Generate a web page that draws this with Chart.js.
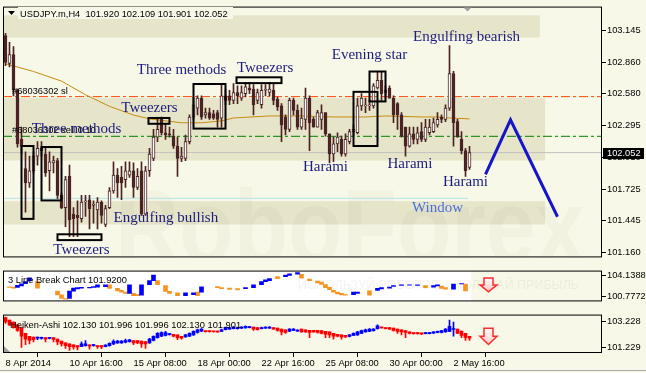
<!DOCTYPE html>
<html>
<head>
<meta charset="utf-8">
<script src="https://cdn.jsdelivr.net/npm/chart.js@4.4.1/dist/chart.umd.min.js"></script>
<style>
  html, body { margin: 0; padding: 0; background: #f8f8e8; }
  #wrap { position: relative; width: 646px; height: 373px; overflow: hidden; }
  #wrap canvas { position: absolute; left: 0; }
  #edge { position: absolute; left: 0; top: 370px; width: 646px; height: 1px; background: #a8a8a8; }
</style>
</head>
<body>
<div id="wrap">
  <canvas id="mainPane" width="646" height="264" style="top:0px"></canvas>
  <canvas id="breakPane" width="646" height="44" style="top:264px"></canvas>
  <canvas id="haPane" width="646" height="65" style="top:308px"></canvas>
  <div id="edge"></div>
</div>
<script>
// USDJPY.m H4 candles, 8 Apr - 2 May 2014
const candleOpen = [
  103.10, 102.85, 102.93, 102.61, 102.17, 101.91, 101.78, 101.89, 102.02, 102.09,
  102.04, 101.89, 101.96, 101.98, 101.67, 101.56, 101.84, 101.50, 101.49, 101.46,
  101.61, 101.63, 101.58, 101.54, 101.61, 101.41, 101.56, 101.71, 101.85, 101.83,
  101.81, 101.85, 101.89, 101.74, 101.89, 101.50, 101.89, 102.00, 102.19, 102.35,
  102.23, 102.22, 102.20, 102.11, 102.00, 102.00, 102.15, 102.37, 102.45, 102.54,
  102.39, 102.41, 102.40, 102.41, 102.36, 102.56, 102.56, 102.52, 102.59, 102.54,
  102.58, 102.63, 102.62, 102.52, 102.48, 102.61, 102.59, 102.61, 102.53, 102.47,
  102.37, 102.26, 102.52, 102.43, 102.28, 102.35, 102.54, 102.35, 102.28, 102.35,
  102.41, 102.22, 102.04, 102.13, 102.17, 102.04, 102.15, 102.24, 102.23, 102.47,
  102.47, 102.47, 102.47, 102.63, 102.70, 102.59, 102.63, 102.54, 102.49, 102.39,
  102.28, 102.11, 102.22, 102.17, 102.24, 102.17, 102.23, 102.24, 102.30, 102.37,
  102.35, 102.45, 102.76, 102.33, 102.17, 102.07, 101.920
];
const candleHigh = [
  103.12, 103.04, 103.00, 102.62, 102.28, 102.06, 102.02, 102.06, 102.15, 102.15,
  102.09, 102.06, 102.02, 102.00, 101.69, 101.84, 101.94, 101.56, 101.62, 101.67,
  101.67, 101.67, 101.62, 101.65, 101.62, 101.58, 101.74, 101.97, 101.91, 101.93,
  101.97, 101.97, 101.96, 101.91, 101.97, 101.93, 102.09, 102.26, 102.35, 102.37,
  102.31, 102.28, 102.26, 102.19, 102.10, 102.21, 102.39, 102.55, 102.56, 102.56,
  102.45, 102.45, 102.43, 102.43, 102.67, 102.62, 102.61, 102.67, 102.65, 102.65,
  102.68, 102.68, 102.66, 102.62, 102.66, 102.66, 102.68, 102.67, 102.55, 102.49,
  102.39, 102.54, 102.54, 102.48, 102.45, 102.63, 102.56, 102.37, 102.43, 102.48,
  102.41, 102.22, 102.19, 102.23, 102.20, 102.22, 102.26, 102.30, 102.54, 102.58,
  102.54, 102.52, 102.67, 102.78, 102.78, 102.65, 102.65, 102.56, 102.50, 102.41,
  102.28, 102.28, 102.28, 102.28, 102.32, 102.35, 102.35, 102.36, 102.41, 102.39,
  102.48, 103.01, 102.78, 102.35, 102.24, 102.09, 102.109
];
const candleLow = [
  102.83, 102.82, 102.56, 102.10, 102.04, 101.52, 101.74, 101.87, 101.94, 102.02,
  101.84, 101.71, 101.87, 101.64, 101.55, 101.39, 101.30, 101.30, 101.30, 101.43,
  101.48, 101.37, 101.42, 101.37, 101.42, 101.39, 101.55, 101.69, 101.65, 101.63,
  101.74, 101.83, 101.65, 101.72, 101.49, 101.49, 101.84, 101.98, 102.15, 102.21,
  102.17, 102.19, 102.09, 101.84, 101.97, 101.98, 102.13, 102.35, 102.39, 102.35,
  102.36, 102.35, 102.35, 102.28, 102.28, 102.48, 102.48, 102.49, 102.49, 102.52,
  102.55, 102.58, 102.39, 102.49, 102.45, 102.56, 102.56, 102.48, 102.43, 102.15,
  102.21, 102.24, 102.39, 102.26, 102.26, 102.26, 102.07, 102.28, 102.28, 102.26,
  102.20, 101.96, 101.97, 102.06, 102.02, 102.02, 102.13, 102.20, 102.22, 102.43,
  102.41, 102.43, 102.45, 102.62, 102.52, 102.54, 102.54, 102.32, 102.26, 102.19,
  102.02, 102.10, 102.13, 102.13, 102.15, 102.15, 102.21, 102.23, 102.28, 102.32,
  102.33, 102.43, 102.11, 102.19, 102.04, 101.84, 101.901
];
const candleClose = [
  102.86, 102.93, 102.61, 102.13, 102.11, 101.78, 101.89, 102.02, 102.09, 102.07,
  101.87, 101.97, 101.98, 101.67, 101.56, 101.81, 101.45, 101.46, 101.47, 101.61,
  101.62, 101.55, 101.59, 101.61, 101.49, 101.55, 101.71, 101.85, 101.78, 101.78,
  101.89, 101.89, 101.74, 101.84, 101.50, 101.89, 102.04, 102.19, 102.26, 102.23,
  102.21, 102.21, 102.11, 102.00, 102.02, 102.15, 102.37, 102.48, 102.54, 102.37,
  102.41, 102.36, 102.36, 102.35, 102.56, 102.52, 102.52, 102.59, 102.56, 102.59,
  102.64, 102.61, 102.48, 102.59, 102.61, 102.61, 102.62, 102.52, 102.46, 102.30,
  102.26, 102.52, 102.43, 102.28, 102.36, 102.54, 102.32, 102.28, 102.41, 102.41,
  102.22, 102.04, 102.13, 102.19, 102.04, 102.17, 102.24, 102.26, 102.47, 102.54,
  102.48, 102.48, 102.65, 102.70, 102.58, 102.61, 102.54, 102.39, 102.39, 102.20,
  102.11, 102.22, 102.17, 102.23, 102.17, 102.28, 102.28, 102.32, 102.35, 102.35,
  102.45, 102.76, 102.32, 102.19, 102.07, 101.89, 102.052
];

// moving average, sampled at bar positions
const maBars = [0, 7, 14, 20, 26, 32, 36, 44, 49, 54, 57, 66, 74, 82, 90, 95, 104, 108, 111, 116];
const maValues = [102.848, 102.778, 102.692, 102.570, 102.466, 102.388, 102.354, 102.319, 102.319, 102.336,
  102.362, 102.380, 102.380, 102.371, 102.371, 102.380, 102.371, 102.371, 102.362, 102.354];

// forecast zigzag
const forecastBars = [120, 126.25, 138];
const forecastValues = [101.858, 102.345, 101.478];

// horizontal levels
const slLevel = 102.553;
const openLevel = 102.198;
const windowLevel = 101.643;
const windowLevelEnd = 115.6;

// 3 Line Break blocks: [bar, low, high]
const lbBlue = [
  [3, 102.22, 102.58], [4, 102.46, 102.82], [5, 102.82, 103.18], [6, 103.30, 103.78],
  [16, 100.42, 101.62], [17, 101.62, 102.10], [18, 101.98, 102.22], [19, 102.10, 102.26],
  [21, 102.14, 102.26], [22, 102.22, 102.38], [23, 102.26, 102.66], [25, 102.34, 102.66],
  [31, 101.26, 102.66], [34, 100.94, 102.66], [36, 102.66, 103.33], [37, 103.33, 104.26],
  [45, 100.86, 101.34], [47, 101.06, 101.34], [49, 101.46, 102.34], [60, 102.02, 102.22],
  [62, 102.18, 102.66], [64, 102.66, 103.18], [65, 103.18, 103.46], [66, 103.34, 103.66],
  [70, 103.98, 104.26], [71, 104.18, 104.46], [73, 104.38, 104.66], [87, 101.06, 101.46],
  [88, 101.26, 101.46], [93, 101.74, 102.06], [94, 101.98, 102.18], [96, 102.10, 102.30],
  [97, 102.38, 102.54], [99, 102.54, 102.66], [101, 102.58, 102.66], [103, 102.54, 102.66],
  [107, 102.26, 102.54], [108, 102.46, 102.66], [112, 101.94, 102.78], [114, 102.78, 102.86]
];
const lbOrange = [
  [1, 102.22, 102.34], [2, 102.10, 102.30], [8, 102.10, 103.18], [13, 101.02, 101.62],
  [14, 100.42, 101.02], [15, 100.30, 100.42], [26, 102.06, 102.66], [28, 101.66, 102.06],
  [29, 101.46, 101.74], [30, 101.26, 101.46], [32, 100.86, 101.26], [33, 100.86, 101.06],
  [38, 102.66, 103.33], [40, 101.58, 102.54], [41, 101.26, 101.58], [43, 100.86, 101.34],
  [48, 100.86, 101.46], [53, 102.18, 102.38], [54, 102.02, 102.22], [56, 101.90, 102.10],
  [58, 101.82, 102.02], [68, 103.66, 103.98], [74, 103.74, 104.38], [76, 103.34, 103.58],
  [78, 102.98, 103.26], [79, 102.70, 103.10], [80, 102.20, 102.70], [81, 101.86, 102.26],
  [82, 101.46, 101.74], [83, 101.18, 101.46], [84, 101.02, 101.26], [85, 100.94, 101.06],
  [91, 100.94, 101.66], [105, 102.18, 102.54], [109, 102.06, 102.46], [110, 101.94, 102.18],
  [115, 101.66, 102.78]
];

// Heiken-Ashi
const haOpen = [
  103.52, 103.34, 103.18, 102.96, 102.74, 102.30, 102.07, 102.01, 101.92, 101.90,
  101.96, 101.90, 101.96, 101.85, 101.70, 101.56, 101.47, 101.41, 101.34, 101.25,
  101.34, 101.41, 101.34, 101.34, 101.34, 101.25, 101.34, 101.47, 101.56, 101.56,
  101.61, 101.65, 101.74, 101.74, 101.70, 101.65, 101.56, 101.74, 101.96, 102.07,
  102.14, 102.20, 102.23, 102.18, 102.07, 102.01, 102.07, 102.18, 102.36, 102.47,
  102.47, 102.47, 102.46, 102.45, 102.45, 102.58, 102.63, 102.67, 102.67, 102.70,
  102.72, 102.74, 102.78, 102.74, 102.67, 102.70, 102.70, 102.74, 102.70, 102.63,
  102.58, 102.47, 102.52, 102.47, 102.63, 102.58, 102.54, 102.54, 102.54, 102.52,
  102.45, 102.41, 102.30, 102.23, 102.18, 102.14, 102.05, 102.14, 102.18, 102.30,
  102.41, 102.45, 102.50, 102.67, 102.76, 102.74, 102.74, 102.70, 102.63, 102.58,
  102.52, 102.41, 102.36, 102.36, 102.32, 102.27, 102.27, 102.32, 102.36, 102.36,
  102.41, 102.45, 102.60, 102.63, 102.47, 102.30, 102.07
];
const haClose = [
  103.18, 102.96, 102.74, 102.52, 102.07, 101.85, 101.74, 101.80, 101.96, 101.96,
  101.85, 101.96, 101.83, 101.63, 101.47, 101.34, 101.25, 101.23, 101.21, 101.47,
  101.47, 101.30, 101.38, 101.25, 101.23, 101.38, 101.52, 101.67, 101.70, 101.70,
  101.74, 101.79, 101.56, 101.56, 101.47, 101.47, 101.85, 102.07, 102.30, 102.36,
  102.36, 102.25, 102.07, 101.96, 101.92, 102.18, 102.30, 102.45, 102.58, 102.63,
  102.43, 102.43, 102.42, 102.41, 102.58, 102.74, 102.74, 102.78, 102.74, 102.78,
  102.85, 102.81, 102.63, 102.58, 102.74, 102.78, 102.78, 102.63, 102.52, 102.41,
  102.36, 102.63, 102.63, 102.56, 102.41, 102.41, 102.36, 102.41, 102.36, 102.30,
  102.23, 102.18, 102.07, 102.07, 102.01, 102.01, 102.18, 102.30, 102.41, 102.52,
  102.58, 102.63, 102.63, 102.89, 102.72, 102.67, 102.63, 102.52, 102.45, 102.41,
  102.36, 102.30, 102.27, 102.27, 102.25, 102.36, 102.36, 102.41, 102.45, 102.52,
  102.63, 102.85, 102.62, 102.30, 102.14, 101.96, 101.92
];
const haHigh = [
  103.56, 103.34, 103.18, 102.96, 102.74, 102.30, 102.07, 102.01, 102.01, 102.00,
  101.96, 101.98, 101.96, 101.85, 101.70, 101.56, 101.47, 101.41, 101.34, 101.63,
  101.74, 101.41, 101.45, 101.34, 101.34, 101.42, 101.56, 101.80, 101.76, 101.74,
  101.85, 101.83, 101.74, 101.74, 101.70, 101.65, 101.90, 102.10, 102.36, 102.41,
  102.45, 102.30, 102.23, 102.18, 102.07, 102.23, 102.34, 102.50, 102.63, 102.67,
  102.47, 102.47, 102.46, 102.45, 102.63, 102.78, 102.76, 102.82, 102.78, 102.82,
  102.88, 102.85, 102.78, 102.74, 102.78, 102.80, 102.82, 102.74, 102.70, 102.63,
  102.58, 102.67, 102.67, 102.60, 102.63, 102.58, 102.54, 102.54, 102.54, 102.52,
  102.45, 102.41, 102.30, 102.23, 102.18, 102.14, 102.20, 102.34, 102.45, 102.56,
  102.63, 102.67, 102.67, 102.96, 102.76, 102.74, 102.74, 102.70, 102.63, 102.58,
  102.52, 102.41, 102.36, 102.36, 102.32, 102.38, 102.38, 102.43, 102.47, 102.54,
  102.67, 103.34, 103.18, 102.63, 102.47, 102.30, 102.07
];
const haLow = [
  103.07, 102.89, 102.70, 102.45, 101.19, 101.41, 101.47, 101.63, 101.81, 101.85,
  101.63, 101.87, 101.63, 101.41, 101.30, 101.12, 100.96, 101.07, 101.01, 101.25,
  101.30, 101.07, 101.30, 101.12, 101.10, 101.23, 101.30, 101.41, 101.52, 101.52,
  101.56, 101.61, 101.41, 101.50, 101.19, 101.12, 101.52, 101.70, 101.92, 102.03,
  102.10, 102.15, 102.01, 101.80, 101.85, 101.98, 102.03, 102.14, 102.32, 102.43,
  102.38, 102.38, 102.38, 102.36, 102.43, 102.56, 102.61, 102.65, 102.63, 102.67,
  102.70, 102.72, 102.52, 102.54, 102.65, 102.68, 102.68, 102.61, 102.47, 102.18,
  102.30, 102.43, 102.50, 102.45, 102.38, 102.36, 101.96, 102.36, 102.32, 102.25,
  101.96, 101.96, 101.85, 102.01, 101.85, 101.96, 102.01, 102.12, 102.14, 102.27,
  102.38, 102.43, 102.47, 102.63, 102.70, 102.65, 102.61, 102.47, 102.30, 102.18,
  101.96, 102.25, 102.23, 102.23, 102.20, 102.25, 102.25, 102.30, 102.34, 102.34,
  102.38, 102.43, 102.07, 102.27, 101.96, 101.74, 101.74
];

// axes
const priceTicks = [103.145, 102.860, 102.580, 102.295, 102.010, 101.725, 101.445, 101.160];
const lbTicks = [104.1388, 100.7772];
const haTicks = [103.228, 101.229];
const timeTickBars = [0, 16, 32, 48, 64, 80, 96, 112];
const timeTickLabels = ['8 Apr 2014', '10 Apr 16:00', '15 Apr 08:00', '18 Apr 00:00',
  '22 Apr 16:00', '25 Apr 08:00', '30 Apr 00:00', '2 May 16:00'];

// chart objects drawn on the price pane
const zones = [
  {to: 133.6, high: 103.281, low: 103.082},
  {to: 134.9, high: 102.540, low: 101.981},
  {to: 134.9, high: 101.617, low: 101.409}
];
const patternBoxes = [
  {from: 4, to: 7, high: 102.111, low: 101.459},
  {from: 9, to: 14, high: 102.102, low: 101.624},
  {from: 13, to: 24, high: 101.321, low: 101.269},
  {from: 35.75, to: 41, high: 102.362, low: 102.310},
  {from: 47, to: 55, high: 102.666, low: 102.267},
  {from: 57.75, to: 69, high: 102.726, low: 102.674},
  {from: 87, to: 93, high: 102.596, low: 102.111},
  {from: 91, to: 95, high: 102.778, low: 102.510}
];
const patternLabels = [
  {text: 'Three methods', bar: 44, price: 102.752},
  {text: 'Tweezers', bar: 36, price: 102.414},
  {text: 'Three methods', bar: 17.75, price: 102.232},
  {text: 'Tweezers', bar: 64.9, price: 102.770},
  {text: 'Evening star', bar: 91, price: 102.891},
  {text: 'Engulfing bearish', bar: 115.25, price: 103.047},
  {text: 'Harami', bar: 80, price: 101.886},
  {text: 'Harami', bar: 101.1, price: 101.912},
  {text: 'Harami', bar: 115, price: 101.755},
  {text: 'Engulfing bullish', bar: 40.1, price: 101.435},
  {text: 'Tweezers', bar: 19, price: 101.149}
];
const windowLabel = {text: 'Window', bar: 108, price: 101.521};

// Layout
const X_MIN = -0.625;
const X_MAX = 149.125;
const PANE_BG = '#f8f8e8';
const ZONE_BG = '#e7e5c9';
const CANDLE_DARK = '#4b2323';
const UI_FAMILY = '"Liberation Sans", Arial, sans-serif';
const UI_FONT = {family: UI_FAMILY, size: 9.3};
const LABEL_FONT = '15px "Liberation Serif", "Times New Roman", serif';

const lastBar = candleClose.length - 1;
const bars = candleClose.map((_, i) => i);

const rightAxis = (min, max, ticks, digits) => ({
  position: 'right', min: min, max: max, beginAtZero: false, offset: false,
  afterFit: (s) => { s.width = 44; },
  afterBuildTicks: (s) => { s.ticks = ticks.map(v => ({value: v})); },
  grid: {drawOnChartArea: false, drawTicks: true, tickLength: 4, color: '#000'},
  border: {display: false},
  ticks: {autoSkip: false, padding: 1, color: '#000', font: UI_FONT, callback: (v) => v.toFixed(digits)}
});

const hiddenX = {type: 'linear', display: false, min: X_MIN, max: X_MAX, offset: false};

const baseOptions = {
  responsive: false, animation: false, devicePixelRatio: 1,
  plugins: {legend: {display: false}, tooltip: {enabled: false}}
};

const drawPaneBorder = (ctx, a) => {
  ctx.save();
  ctx.strokeStyle = '#000';
  ctx.lineWidth = 1;
  ctx.strokeRect(a.left + 0.5, a.top + 0.5, a.width - 1, a.height - 1);
  ctx.restore();
};

const drawDownArrow = (ctx, cx, top, bottom) => {
  const mid = top + (bottom - top) * 0.5;
  ctx.save();
  ctx.beginPath();
  ctx.moveTo(cx - 4.5, top);
  ctx.lineTo(cx + 4.5, top);
  ctx.lineTo(cx + 4.5, mid);
  ctx.lineTo(cx + 8.5, mid);
  ctx.lineTo(cx, bottom);
  ctx.lineTo(cx - 8.5, mid);
  ctx.lineTo(cx - 4.5, mid);
  ctx.closePath();
  let g = ctx.createLinearGradient(0, top, 0, bottom);
  g.addColorStop(0, '#ffffff');
  g.addColorStop(1, '#ffc8c8');
  ctx.fillStyle = g;
  ctx.fill();
  ctx.strokeStyle = '#ff2b2b';
  ctx.lineWidth = 1.5;
  ctx.stroke();
  ctx.restore();
};

// price pane extras
const mainDecor = {
  id: 'mainDecor',
  beforeDraw(chart) {
    const {ctx, chartArea: a, scales: {x, y}} = chart;
    ctx.save();
    ctx.fillStyle = PANE_BG;
    ctx.fillRect(a.left, a.top, a.width, a.height);
    ctx.fillStyle = ZONE_BG;
    zones.forEach(z => {
      let top = y.getPixelForValue(z.high);
      let bottom = y.getPixelForValue(z.low);
      ctx.fillRect(a.left, top, x.getPixelForValue(z.to) - a.left, bottom - top);
    });

    // watermark
    ctx.beginPath();
    ctx.rect(a.left, a.top, a.width, a.height);
    ctx.clip();
    ctx.font = 'bold 104px ' + UI_FAMILY;
    ctx.fillStyle = 'rgba(90, 90, 60, 0.035)';
    let w = ctx.measureText('RoboForex').width;
    ctx.translate(115, 262);
    ctx.scale(470 / w, 1);
    ctx.fillText('RoboForex', 0, 0);
    ctx.restore();
  },
  afterDatasetsDraw(chart) {
    const {ctx, chartArea: a, scales: {x, y}} = chart;
    ctx.save();

    // order labels
    ctx.font = '9.3px ' + UI_FAMILY;
    ctx.fillStyle = '#000';
    ctx.textAlign = 'left';
    ctx.fillText('#68036302 sl', 12, y.getPixelForValue(slLevel) - 3);
    ctx.fillText('#68036302 sell 0.10', 12, y.getPixelForValue(openLevel) - 3);

    ctx.strokeStyle = '#000';
    ctx.lineWidth = 2;
    patternBoxes.forEach(b => {
      let x0 = x.getPixelForValue(b.from), x1 = x.getPixelForValue(b.to);
      let y0 = y.getPixelForValue(b.high), y1 = y.getPixelForValue(b.low);
      ctx.strokeRect(x0, y0, x1 - x0, y1 - y0);
    });

    ctx.font = LABEL_FONT;
    ctx.textAlign = 'center';
    ctx.textBaseline = 'alphabetic';
    ctx.fillStyle = '#1c1c7e';
    patternLabels.forEach(l => {
      ctx.fillText(l.text, x.getPixelForValue(l.bar), y.getPixelForValue(l.price));
    });
    ctx.fillStyle = '#4a6fdc';
    ctx.fillText(windowLabel.text, x.getPixelForValue(windowLabel.bar), y.getPixelForValue(windowLabel.price));
    ctx.restore();
  },
  afterDraw(chart) {
    const {ctx, chartArea: a, scales: {x, y}} = chart;
    drawPaneBorder(ctx, a);
    ctx.save();

    // title
    ctx.fillStyle = PANE_BG;
    ctx.fillRect(18, 7, 215, 12);
    ctx.fillStyle = '#000';
    ctx.beginPath();
    ctx.moveTo(8, 11);
    ctx.lineTo(15, 11);
    ctx.lineTo(11.5, 15);
    ctx.closePath();
    ctx.fill();
    ctx.font = '9.3px ' + UI_FAMILY;
    ctx.textAlign = 'left';
    let ohlc = [candleOpen, candleHigh, candleLow, candleClose].map(s => s[lastBar].toFixed(3)).join(' ');
    ctx.fillText('USDJPY.m,H4  ' + ohlc, 20, 17);

    // chart shift marker
    let sx = x.getPixelForValue(lastBar - 0.5);
    ctx.fillStyle = '#a0a0a0';
    ctx.beginPath();
    ctx.moveTo(sx - 4, a.top + 1);
    ctx.lineTo(sx + 4, a.top + 1);
    ctx.lineTo(sx, a.top + 5);
    ctx.closePath();
    ctx.fill();

    // current price tag
    let py = Math.round(y.getPixelForValue(candleClose[lastBar]));
    ctx.fillStyle = '#000';
    ctx.fillRect(a.right + 1, py - 5, 41, 11);
    ctx.fillStyle = '#fff';
    ctx.textBaseline = 'middle';
    ctx.fillText(candleClose[lastBar].toFixed(3), a.right + 5, py + 0.5);
    ctx.restore();
  }
};

const levelLine = (value, color, dash, from, to) => ({
  type: 'line',
  data: [{x: from, y: value}, {x: to, y: value}],
  borderColor: color, borderWidth: 1, borderDash: dash,
  pointRadius: 0, order: 5
});

new Chart(document.getElementById('mainPane'), {
  type: 'bar',
  data: {
    datasets: [
      {
        type: 'line',
        data: forecastBars.map((b, i) => ({x: b, y: forecastValues[i]})),
        borderColor: '#1616c8', borderWidth: 3, pointRadius: 0, order: 0
      },
      {
        data: bars.map(i => ({x: i, y: [candleOpen[i], candleClose[i]]})),
        backgroundColor: (c) => candleClose[c.dataIndex] >= candleOpen[c.dataIndex] ? '#ffffff' : CANDLE_DARK,
        borderColor: CANDLE_DARK, borderWidth: 1, borderSkipped: false,
        barThickness: 3, minBarLength: 1, grouped: false, order: 1
      },
      {
        data: bars.map(i => ({x: i, y: [candleLow[i], candleHigh[i]]})),
        backgroundColor: CANDLE_DARK, barThickness: 1, grouped: false, order: 2
      },
      {
        type: 'line',
        data: maBars.map((b, i) => ({x: b, y: maValues[i]})),
        borderColor: '#c68c0e', borderWidth: 1, pointRadius: 0, order: 3
      },
      levelLine(slLevel, '#ff4500', [9, 3, 3, 3], X_MIN, X_MAX),
      levelLine(openLevel, '#008000', [9, 3, 3, 3], X_MIN, X_MAX),
      levelLine(candleClose[lastBar], '#c0c0c0', [], X_MIN, X_MAX),
      levelLine(windowLevel, '#b4e4ea', [], X_MIN, windowLevelEnd)
    ]
  },
  options: {
    ...baseOptions,
    layout: {padding: {left: 3, top: 3, right: 0, bottom: 2}},
    scales: {
      x: hiddenX,
      y: rightAxis(101.114, 103.359, priceTicks, 3)
    }
  },
  plugins: [mainDecor]
});

// 3 Line Break pane
const breakDecor = {
  id: 'breakDecor',
  beforeDraw(chart) {
    const {ctx, chartArea: a, scales: {x}} = chart;
    ctx.save();
    ctx.fillStyle = PANE_BG;
    ctx.fillRect(a.left, a.top, a.width, a.height);
    ctx.fillStyle = '#ffffff';
    ctx.fillRect(a.left, a.top, x.getPixelForValue(lastBar + 0.4) - a.left, a.height);
    ctx.font = '12.5px ' + UI_FAMILY;
    ctx.fillStyle = 'rgba(0, 0, 0, 0.05)';
    ctx.fillText('ИСПОЛЬЗУЙ РОБОТОВ – ПОЛУЧАЙ ПРИБЫЛЬ', 298, a.top + 18);
    ctx.restore();
  },
  afterDatasetsDraw(chart) {
    const {ctx, scales: {x, y}} = chart;
    drawDownArrow(ctx, x.getPixelForValue(120.75), y.getPixelForValue(103.78), y.getPixelForValue(101.50));
  },
  afterDraw(chart) {
    const {ctx, chartArea: a} = chart;
    drawPaneBorder(ctx, a);
    ctx.save();
    ctx.font = '9.3px ' + UI_FAMILY;
    ctx.fillStyle = '#000';
    ctx.fillText('3 Line Break Chart 101.9200', a.left + 5, a.top + 12);
    ctx.restore();
  }
};

new Chart(document.getElementById('breakPane'), {
  type: 'bar',
  data: {
    datasets: [
      {
        data: lbBlue.map(b => ({x: b[0], y: [b[1], b[2]]})),
        backgroundColor: '#0000ff', barThickness: 4, grouped: false
      },
      {
        data: lbOrange.map(b => ({x: b[0], y: [b[1], b[2]]})),
        backgroundColor: '#f7931e', barThickness: 4, grouped: false
      }
    ]
  },
  options: {
    ...baseOptions,
    layout: {padding: {left: 3, top: 0, right: 0, bottom: 2}},
    scales: {
      x: hiddenX,
      y: rightAxis(99.937, 104.979, lbTicks, 4)
    }
  },
  plugins: [breakDecor]
});

// Heiken-Ashi pane
const haColor = (c) => haClose[c.dataIndex] >= haOpen[c.dataIndex] ? '#0000ff' : '#ff0000';

const haDecor = {
  id: 'haDecor',
  beforeDraw(chart) {
    const {ctx, chartArea: a} = chart;
    ctx.save();
    ctx.fillStyle = PANE_BG;
    ctx.fillRect(a.left, a.top, a.width, a.height);
    ctx.restore();
  },
  afterDatasetsDraw(chart) {
    const {ctx, scales: {x, y}} = chart;
    drawDownArrow(ctx, x.getPixelForValue(120.75), y.getPixelForValue(102.70), y.getPixelForValue(101.43));
  },
  afterDraw(chart) {
    const {ctx, chartArea: a} = chart;
    drawPaneBorder(ctx, a);
    ctx.save();
    ctx.fillStyle = '#a0a0a0';
    ctx.beginPath();
    ctx.moveTo(a.left + 1, a.bottom - 7);
    ctx.lineTo(a.left + 1, a.bottom - 1);
    ctx.lineTo(a.left + 7, a.bottom - 1);
    ctx.closePath();
    ctx.fill();
    ctx.font = '9.3px ' + UI_FAMILY;
    ctx.fillStyle = '#000';
    ctx.fillText('Heiken-Ashi 102.130 101.996 101.996 102.130 101.901', a.left + 7, a.top + 13);
    ctx.restore();
  }
};

new Chart(document.getElementById('haPane'), {
  type: 'bar',
  data: {
    datasets: [
      {
        data: bars.map(i => ({x: i, y: [haOpen[i], haClose[i]]})),
        backgroundColor: haColor, barThickness: 3, minBarLength: 1, grouped: false, order: 1
      },
      {
        data: bars.map(i => ({x: i, y: [haLow[i], haHigh[i]]})),
        backgroundColor: haColor, barThickness: 1, grouped: false, order: 2
      }
    ]
  },
  options: {
    ...baseOptions,
    layout: {padding: {left: 3, top: 0, right: 0, bottom: 0}},
    scales: {
      x: {
        type: 'linear', position: 'bottom', min: X_MIN, max: X_MAX, offset: false,
        afterFit: (s) => { s.height = 20; },
        afterBuildTicks: (s) => { s.ticks = timeTickBars.map(v => ({value: v})); },
        grid: {drawOnChartArea: false, drawTicks: true, tickLength: 4, color: '#000'},
        border: {display: false},
        ticks: {
          autoSkip: false, maxRotation: 0, align: 'start', padding: 1,
          color: '#000', font: UI_FONT,
          callback: (v, i) => timeTickLabels[i]
        }
      },
      y: rightAxis(100.764, 103.761, haTicks, 3)
    }
  },
  plugins: [haDecor]
});
</script>
</body>
</html>
